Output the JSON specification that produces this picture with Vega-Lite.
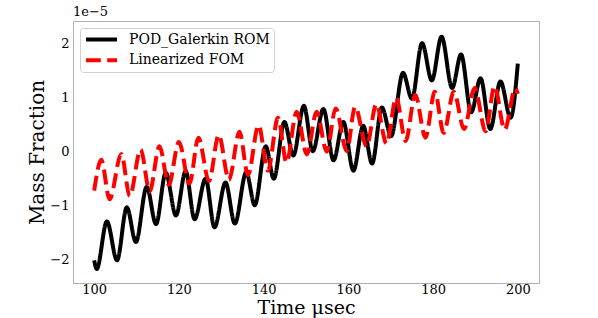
{
  "$schema": "https://vega.github.io/schema/vega-lite/v6.json",
  "width": 466,
  "height": 262,
  "autosize": {"type": "none"},
  "padding": {"left": 73, "top": 21, "right": 59, "bottom": 35},
  "background": "white",
  "title": {"text": "1e−5", "anchor": "start", "frame": "group", "font": "DejaVu Serif", "fontSize": 13, "fontWeight": "normal", "color": "#000000", "offset": 2},
  "data": {"values": [
    {"t": 100.0, "v": -2.02e-5, "s": "POD_Galerkin ROM"},
    {"t": 100.6, "v": -2.18e-5, "s": "POD_Galerkin ROM"},
    {"t": 103.0, "v": -1.30e-5, "s": "POD_Galerkin ROM"},
    {"t": 105.4, "v": -2.02e-5, "s": "POD_Galerkin ROM"},
    {"t": 107.7, "v": -1.04e-5, "s": "POD_Galerkin ROM"},
    {"t": 109.85, "v": -1.68e-5, "s": "POD_Galerkin ROM"},
    {"t": 112.4, "v": -0.66e-5, "s": "POD_Galerkin ROM"},
    {"t": 114.6, "v": -1.35e-5, "s": "POD_Galerkin ROM"},
    {"t": 116.9, "v": -0.40e-5, "s": "POD_Galerkin ROM"},
    {"t": 119.3, "v": -1.19e-5, "s": "POD_Galerkin ROM"},
    {"t": 121.6, "v": -0.37e-5, "s": "POD_Galerkin ROM"},
    {"t": 123.7, "v": -1.26e-5, "s": "POD_Galerkin ROM"},
    {"t": 126.3, "v": -0.51e-5, "s": "POD_Galerkin ROM"},
    {"t": 128.4, "v": -1.41e-5, "s": "POD_Galerkin ROM"},
    {"t": 131.0, "v": -0.58e-5, "s": "POD_Galerkin ROM"},
    {"t": 133.2, "v": -1.34e-5, "s": "POD_Galerkin ROM"},
    {"t": 135.9, "v": -0.39e-5, "s": "POD_Galerkin ROM"},
    {"t": 137.9, "v": -1.00e-5, "s": "POD_Galerkin ROM"},
    {"t": 140.5, "v": 0.09e-5, "s": "POD_Galerkin ROM"},
    {"t": 142.4, "v": -0.51e-5, "s": "POD_Galerkin ROM"},
    {"t": 144.9, "v": 0.54e-5, "s": "POD_Galerkin ROM"},
    {"t": 147.0, "v": -0.08e-5, "s": "POD_Galerkin ROM"},
    {"t": 149.5, "v": 0.84e-5, "s": "POD_Galerkin ROM"},
    {"t": 151.6, "v": 0.00e-5, "s": "POD_Galerkin ROM"},
    {"t": 154.1, "v": 0.78e-5, "s": "POD_Galerkin ROM"},
    {"t": 156.5, "v": -0.17e-5, "s": "POD_Galerkin ROM"},
    {"t": 158.8, "v": 0.54e-5, "s": "POD_Galerkin ROM"},
    {"t": 161.2, "v": -0.36e-5, "s": "POD_Galerkin ROM"},
    {"t": 163.5, "v": 0.47e-5, "s": "POD_Galerkin ROM"},
    {"t": 165.6, "v": -0.23e-5, "s": "POD_Galerkin ROM"},
    {"t": 167.9, "v": 0.81e-5, "s": "POD_Galerkin ROM"},
    {"t": 170.1, "v": 0.28e-5, "s": "POD_Galerkin ROM"},
    {"t": 172.9, "v": 1.45e-5, "s": "POD_Galerkin ROM"},
    {"t": 175.0, "v": 0.97e-5, "s": "POD_Galerkin ROM"},
    {"t": 177.4, "v": 2.00e-5, "s": "POD_Galerkin ROM"},
    {"t": 179.7, "v": 1.31e-5, "s": "POD_Galerkin ROM"},
    {"t": 182.0, "v": 2.12e-5, "s": "POD_Galerkin ROM"},
    {"t": 184.5, "v": 1.17e-5, "s": "POD_Galerkin ROM"},
    {"t": 186.6, "v": 1.79e-5, "s": "POD_Galerkin ROM"},
    {"t": 189.0, "v": 0.72e-5, "s": "POD_Galerkin ROM"},
    {"t": 191.2, "v": 1.35e-5, "s": "POD_Galerkin ROM"},
    {"t": 193.5, "v": 0.41e-5, "s": "POD_Galerkin ROM"},
    {"t": 195.9, "v": 1.29e-5, "s": "POD_Galerkin ROM"},
    {"t": 198.3, "v": 0.62e-5, "s": "POD_Galerkin ROM"},
    {"t": 200.0, "v": 1.62e-5, "s": "POD_Galerkin ROM"},
    {"t": 100.0, "v": -0.73e-5, "s": "Linearized FOM"},
    {"t": 101.67, "v": -0.16e-5, "s": "Linearized FOM"},
    {"t": 103.64, "v": -0.89e-5, "s": "Linearized FOM"},
    {"t": 106.4, "v": -0.05e-5, "s": "Linearized FOM"},
    {"t": 108.4, "v": -0.83e-5, "s": "Linearized FOM"},
    {"t": 110.96, "v": 0.03e-5, "s": "Linearized FOM"},
    {"t": 113.1, "v": -0.74e-5, "s": "Linearized FOM"},
    {"t": 115.4, "v": 0.09e-5, "s": "Linearized FOM"},
    {"t": 117.6, "v": -0.62e-5, "s": "Linearized FOM"},
    {"t": 120.0, "v": 0.17e-5, "s": "Linearized FOM"},
    {"t": 122.5, "v": -0.60e-5, "s": "Linearized FOM"},
    {"t": 124.6, "v": 0.25e-5, "s": "Linearized FOM"},
    {"t": 127.1, "v": -0.55e-5, "s": "Linearized FOM"},
    {"t": 129.4, "v": 0.30e-5, "s": "Linearized FOM"},
    {"t": 131.8, "v": -0.53e-5, "s": "Linearized FOM"},
    {"t": 134.3, "v": 0.36e-5, "s": "Linearized FOM"},
    {"t": 136.3, "v": -0.44e-5, "s": "Linearized FOM"},
    {"t": 138.8, "v": 0.48e-5, "s": "Linearized FOM"},
    {"t": 141.0, "v": -0.36e-5, "s": "Linearized FOM"},
    {"t": 143.4, "v": 0.62e-5, "s": "Linearized FOM"},
    {"t": 145.4, "v": -0.21e-5, "s": "Linearized FOM"},
    {"t": 147.8, "v": 0.73e-5, "s": "Linearized FOM"},
    {"t": 150.2, "v": -0.06e-5, "s": "Linearized FOM"},
    {"t": 152.5, "v": 0.73e-5, "s": "Linearized FOM"},
    {"t": 154.9, "v": -0.01e-5, "s": "Linearized FOM"},
    {"t": 157.0, "v": 0.79e-5, "s": "Linearized FOM"},
    {"t": 159.6, "v": 0.00e-5, "s": "Linearized FOM"},
    {"t": 161.6, "v": 0.82e-5, "s": "Linearized FOM"},
    {"t": 164.3, "v": 0.09e-5, "s": "Linearized FOM"},
    {"t": 166.6, "v": 0.87e-5, "s": "Linearized FOM"},
    {"t": 169.0, "v": 0.14e-5, "s": "Linearized FOM"},
    {"t": 171.3, "v": 0.99e-5, "s": "Linearized FOM"},
    {"t": 173.5, "v": 0.19e-5, "s": "Linearized FOM"},
    {"t": 175.8, "v": 1.04e-5, "s": "Linearized FOM"},
    {"t": 178.2, "v": 0.25e-5, "s": "Linearized FOM"},
    {"t": 180.4, "v": 1.10e-5, "s": "Linearized FOM"},
    {"t": 182.5, "v": 0.34e-5, "s": "Linearized FOM"},
    {"t": 184.9, "v": 1.10e-5, "s": "Linearized FOM"},
    {"t": 187.3, "v": 0.41e-5, "s": "Linearized FOM"},
    {"t": 189.8, "v": 1.17e-5, "s": "Linearized FOM"},
    {"t": 192.4, "v": 0.37e-5, "s": "Linearized FOM"},
    {"t": 194.5, "v": 1.20e-5, "s": "Linearized FOM"},
    {"t": 196.9, "v": 0.40e-5, "s": "Linearized FOM"},
    {"t": 199.4, "v": 1.16e-5, "s": "Linearized FOM"},
    {"t": 200.0, "v": 1.06e-5, "s": "Linearized FOM"}
  ]},
  "mark": {"type": "line", "interpolate": "monotone", "strokeWidth": 4, "clip": true},
  "encoding": {
    "x": {
      "field": "t", "type": "quantitative",
      "scale": {"domain": [95, 205], "nice": false, "zero": false},
      "axis": {"values": [100, 120, 140, 160, 180, 200], "title": "Time μsec", "titleFontSize": 19, "ticks": false, "tickSize": 0, "labelPadding": 0, "domain": false, "grid": false, "titlePadding": 2.5}
    },
    "y": {
      "field": "v", "type": "quantitative",
      "scale": {"domain": [-2.44e-5, 2.41e-5], "nice": false, "zero": false},
      "axis": {"values": [-2e-5, -1e-5, 0, 1e-5, 2e-5], "labelExpr": "format(round(datum.value*1e5), 'd')", "title": "Mass Fraction", "ticks": false, "tickSize": 0, "labelPadding": 4, "domain": false, "grid": false, "titlePadding": 2}
    },
    "color": {
      "field": "s", "type": "nominal",
      "scale": {"domain": ["POD_Galerkin ROM", "Linearized FOM"], "range": ["#000000", "#ff0000"]},
      "legend": {"title": null, "orient": "top-left", "offset": 7}
    },
    "strokeDash": {
      "field": "s", "type": "nominal",
      "scale": {"domain": ["POD_Galerkin ROM", "Linearized FOM"], "range": [[1, 0], [14.8, 6.4]]},
      "legend": {"title": null, "orient": "top-left", "offset": 7}
    }
  },
  "config": {
    "view": {"stroke": "#b0b0b0", "strokeWidth": 1},
    "axis": {"labelFont": "DejaVu Serif", "labelFontSize": 13, "labelColor": "#000000", "titleFont": "DejaVu Serif", "titleFontSize": 20, "titleFontWeight": "normal", "titleColor": "#000000"},
    "legend": {
      "labelFont": "DejaVu Serif", "labelFontSize": 14, "labelColor": "#000000",
      "symbolType": "stroke", "symbolSize": 961, "symbolStrokeWidth": 4,
      "clipHeight": 15,
      "labelOffset": 10, "padding": 4, "rowPadding": 5.7,
      "fillColor": "#ffffff", "strokeColor": "#d0d0d0", "cornerRadius": 3
    }
  }
}
